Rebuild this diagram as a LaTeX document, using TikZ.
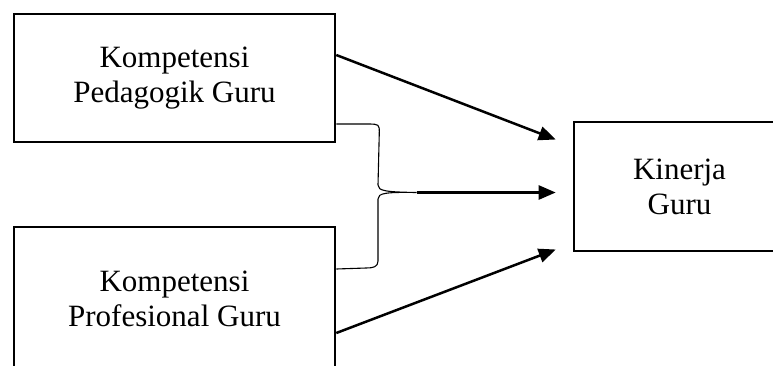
\documentclass[tikz,border=0pt]{standalone}
\usepackage{fontspec}
\setmainfont{Liberation Serif}
\usetikzlibrary{arrows.meta,calc}
\begin{document}
\begin{tikzpicture}[x=1pt,y=-1pt,
  box/.style={draw,line width=2.6pt,inner sep=0pt,align=center,
    font=\fontsize{31}{35}\selectfont},
  conn/.style={line width=2.5pt,-{Triangle[length=17pt,width=14pt]}},
  brace/.style={line width=1.1pt}]
\useasboundingbox (0,0) rectangle (773,365);
\clip (0,0) rectangle (773,365);
\node[box,minimum width=321pt,minimum height=128pt] (pk) at (174.5,78) {Kompetensi\\Pedagogik Guru};
\node[box,minimum width=321pt,minimum height=144pt] (pp) at (174.5,299) {Kompetensi\\Profesional Guru};
\node[box,minimum width=211pt,minimum height=129pt] (kg) at (679.5,186.5) {Kinerja\\Guru};
% connector ends
\coordinate (a1) at ($(pk.east)+(0,-23)$);
\coordinate (t1) at ($(kg.west)+(-17,-47)$);
\coordinate (a3) at ($(pp.east)+(0,34)$);
\coordinate (t3) at ($(kg.west)+(-17,63)$);
\coordinate (bt) at ($(pk.east)+(0,46)$);
\coordinate (bb) at ($(pp.east)+(0,-30)$);
\coordinate (cusp) at ($(kg.west)+(-156,6)$);
\coordinate (t2) at ($(kg.west)+(-17,6)$);
\draw[conn] (a1) -- (t1);
\draw[conn] (a3) -- (t3);
\draw[conn] (cusp) -- (t2);
\draw[brace] (bt) -- ++(32,0) .. controls +(11,0) and +(0,-7) .. ++(11,8)
  -- (378,185) .. controls (378,191) and (386,192) .. (cusp)
  .. controls (386,192) and (378,193) .. (378,199)
  -- (378,261) .. controls (378,267) and (373,268) .. (366,268) -- (bb);
\end{tikzpicture}
\end{document}
